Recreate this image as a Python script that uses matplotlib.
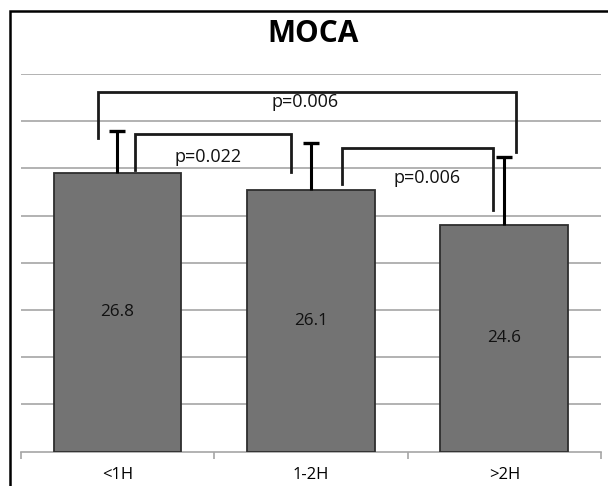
import matplotlib
matplotlib.use("Agg")
import matplotlib.pyplot as plt
from matplotlib.patches import Rectangle

categories = ["<1H", "1-2H", ">2H"]
means = [26.8, 26.1, 24.6]
sds = [1.8, 2.0, 2.9]
title = "MOCA"
comparisons = [("p=0.006", 0, 2), ("p=0.022", 0, 1), ("p=0.006", 1, 2)]

plt.rcParams['font.family'] = ['Open Sans', 'DejaVu Sans']

fig = plt.figure(figsize=(6.08, 4.86), dpi=100)
ax = fig.add_axes([0.034, 0.0706, 0.9545, 0.777])

x = list(range(len(categories)))
ymin = 15
ax.bar(x, [m - ymin for m in means], bottom=ymin, width=0.66,
       color="#737373", edgecolor="#2e2e2e", linewidth=1.3, zorder=3)
tops = [m + s for m, s in zip(means, sds)]
ax.vlines(x, means, tops, color="black", linewidth=2.2, zorder=4)
ax.plot(x, tops, linestyle="none", marker="_", markersize=11, markeredgewidth=2.4,
        color="black", zorder=4)

for xi, m in zip(x, means):
    ax.text(xi, (m + ymin) / 2, f"{m}", ha="center", va="center", fontsize=12.3,
            color="#111111", zorder=5)

ax.set_xlim(-0.5, 2.5)
ax.set_ylim(15, 31)
ax.set_yticks(range(17, 32, 2))
ax.yaxis.grid(True, color="#a6a6a6", linewidth=1.2, zorder=0)
ax.tick_params(axis="y", left=False, labelleft=False)
ax.set_xticks(x)
ax.set_xticklabels(categories, fontsize=12)
ax.set_xticks([-0.5, 0.5, 1.5, 2.5], minor=True)
ax.tick_params(axis="x", which="major", length=0, pad=11)
ax.tick_params(axis="x", which="minor", length=5, color="#a6a6a6", width=1.2)
for s in ["top", "right", "left"]:
    ax.spines[s].set_visible(False)
ax.spines["bottom"].set_color("#a6a6a6")
ax.spines["bottom"].set_linewidth(1.2)
ax.set_axisbelow(True)

# significance brackets: (x_left, x_right, y_top, y_left_bottom, y_right_bottom, text_x, text_y)
brackets = [
    (-0.10, 2.06, 30.22, 28.31, 27.68, 0.97, 29.80),
    (0.09, 0.90, 28.48, 26.92, 26.87, 0.47, 27.47),
    (1.16, 1.94, 27.85, 26.36, 25.22, 1.60, 26.58),
]
for (label, _, _), (xl, xr, yt, ybl, ybr, tx, ty) in zip(comparisons, brackets):
    ax.plot([xl, xl, xr, xr], [ybl, yt, yt, ybr], color="#1a1a1a", linewidth=2,
            solid_joinstyle="miter", zorder=6, clip_on=False)
    ax.text(tx, ty, label, ha="center", va="center", fontsize=13, color="#111111",
            zorder=6)

fig.text(0.515, 0.930, title, ha="center", va="center", fontsize=21.5, fontweight="bold")

fig.patches.append(Rectangle((10 / 608, -0.1), 1.1, 1 - 10.5 / 486 + 0.1,
                             transform=fig.transFigure, fill=False,
                             edgecolor="black", linewidth=1.8))

fig.savefig("out.png", dpi=100)
